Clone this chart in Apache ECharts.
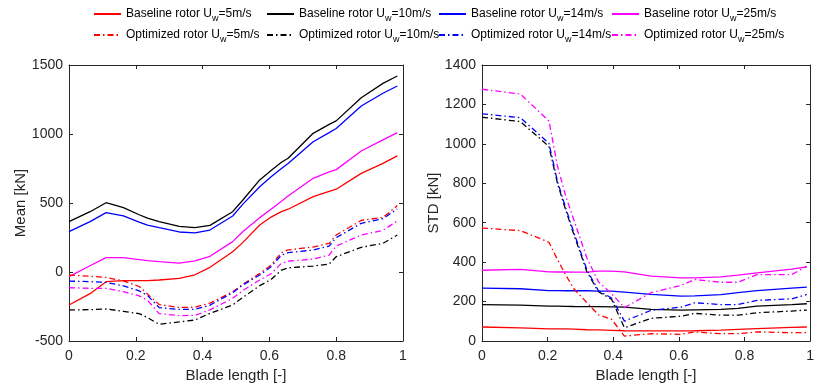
<!DOCTYPE html>
<html><head><meta charset="utf-8">
<script src="https://cdn.jsdelivr.net/npm/echarts@6/dist/echarts.min.js"></script>
<style>html,body{margin:0;padding:0;background:#fff}#c{width:817px;height:388px}</style>
</head><body><div id="c"></div>
<script>
// ---- Left plot (Mean) ----
var xMean = [0, 0.063, 0.111, 0.163, 0.21, 0.235, 0.27, 0.33, 0.377, 0.422, 0.49, 0.52, 0.571, 0.605, 0.636, 0.656, 0.731, 0.779, 0.8, 0.875, 0.94, 0.983];
var meanBase5  = [-239,-157,-70,-63,-63,-62,-58,-46,-20,34,147,213,341,398,438,455,546,585,600,715,787,841];
var meanBase10 = [365,437,502,466,415,390,365,330,321,338,437,520,667,735,795,824,1005,1070,1095,1263,1367,1420];
var meanBase14 = [292,365,430,406,362,340,321,290,283,304,406,490,618,690,750,787,944,1010,1040,1203,1295,1348];
var meanBase25 = [-34,45,104,104,90,82,75,65,80,114,220,292,394,455,512,551,679,725,742,877,957,1010];
var meanOpt5   = [-22,-31,-39,-65,-105,-160,-236,-257,-255,-225,-143,-90,-10,50,140,160,181,208,268,374,395,481];
var meanOpt10  = [-275,-273,-268,-285,-302,-330,-379,-362,-348,-300,-239,-185,-99,-55,14,30,43,58,111,179,208,268];
var meanOpt14  = [-66,-70,-75,-100,-137,-170,-258,-271,-271,-240,-150,-95,-22,38,123,140,159,188,249,353,386,457];
var meanOpt25  = [-114,-118,-118,-143,-173,-205,-302,-316,-314,-275,-191,-135,-58,-13,63,78,94,123,188,268,302,370];

// ---- Right plot (STD) ----
var xStd = [0, 0.117, 0.204, 0.23, 0.255, 0.28, 0.32, 0.355, 0.395, 0.434, 0.515, 0.607, 0.648, 0.728, 0.78, 0.838, 0.944, 0.99];
var stdBase5  = [71,67,62,62,61,60,57,56,54,52,51,51,52,55,59,63,69,71];
var stdBase10 = [185,182,177,177,176,175,174,174,173,172,160,157,158,160,165,177,185,189];
var stdBase14 = [268,265,256,256,255,255,255,253,253,248,236,228,229,235,245,256,268,273];
var stdBase25 = [359,363,351,350,350,349,349,354,354,351,329,320,320,325,334,346,365,376];
var stdOpt5   = [573,560,501,413,335,265,194,133,110,25,37,34,46,37,37,46,42,42];
var stdOpt10  = [1135,1113,987,800,665,540,350,250,212,67,115,126,140,131,131,143,152,157];
var stdOpt14  = [1152,1133,1003,810,675,550,360,255,218,101,155,172,194,185,185,206,214,236];
var stdOpt25  = [1277,1253,1116,888,736,614,420,300,240,169,245,282,312,298,298,337,337,379];

var xTicks = {min: 0, max: 1, interval: 0.2};
var meanTicks = {min: -500, max: 1500, interval: 500};
var stdTicks = {min: 0, max: 1400, interval: 200};

var speeds = [5, 10, 14, 25];
var baseNames = ['Baseline rotor Uw=5m/s', 'Baseline rotor Uw=10m/s', 'Baseline rotor Uw=14m/s', 'Baseline rotor Uw=25m/s'];
var optNames = ['Optimized rotor Uw=5m/s', 'Optimized rotor Uw=10m/s', 'Optimized rotor Uw=14m/s', 'Optimized rotor Uw=25m/s'];
var colors = ['#ff0000', '#000000', '#0000ff', '#ff00ff'];

var FONT = '"Liberation Sans", Arial, Helvetica, sans-serif';
var AX = '#262626';
var dashDot = [6, 3, 1.5, 3];

function pairs(xs, ys) { return ys.map(function (v, i) { return [xs[i], v]; }); }
function mk(name, color, dashed, xs, ys, idx) {
  return {
    name: name, type: 'line', xAxisIndex: idx, yAxisIndex: idx,
    data: pairs(xs, ys), symbol: 'none', showSymbol: false, smooth: false, animation: false,
    lineStyle: {color: color, width: 1.3, type: dashed ? dashDot : 'solid'},
    itemStyle: {color: color}
  };
}
function plain(v) { return String(v); }

function baseX(gi, show) {
  return {
    type: 'value', gridIndex: gi, min: xTicks.min, max: xTicks.max, interval: xTicks.interval,
    position: show ? 'bottom' : 'top',
    name: show ? 'Blade length [-]' : '', nameLocation: 'middle', nameGap: 25,
    nameTextStyle: {fontFamily: FONT, fontSize: 15, color: AX},
    axisLine: {show: true, onZero: false, lineStyle: {color: AX, width: 1}},
    axisTick: {show: true, inside: true, length: 4, lineStyle: {color: AX}},
    axisLabel: {show: show, fontFamily: FONT, fontSize: 14, color: AX, margin: 8, formatter: plain},
    splitLine: {show: false}
  };
}
function baseY(gi, show, t, nm, gap) {
  return {
    type: 'value', gridIndex: gi, min: t.min, max: t.max, interval: t.interval,
    position: show ? 'left' : 'right',
    name: show ? nm : '', nameLocation: 'middle', nameGap: gap, nameRotate: 90,
    nameTextStyle: {fontFamily: FONT, fontSize: 15, color: AX},
    axisLine: {show: true, onZero: false, lineStyle: {color: AX, width: 1}},
    axisTick: {show: true, inside: true, length: 4, lineStyle: {color: AX}},
    axisLabel: {show: show, fontFamily: FONT, fontSize: 14, color: AX, margin: 6, formatter: plain},
    splitLine: {show: false}
  };
}

var meanBase = [meanBase5, meanBase10, meanBase14, meanBase25];
var meanOpt = [meanOpt5, meanOpt10, meanOpt14, meanOpt25];
var stdBase = [stdBase5, stdBase10, stdBase14, stdBase25];
var stdOpt = [stdOpt5, stdOpt10, stdOpt14, stdOpt25];

var series = [];
speeds.forEach(function (s, i) { series.push(mk(baseNames[i], colors[i], false, xMean, meanBase[i], 0)); });
speeds.forEach(function (s, i) { series.push(mk(optNames[i], colors[i], true, xMean, meanOpt[i], 0)); });
speeds.forEach(function (s, i) { series.push(mk(baseNames[i], colors[i], false, xStd, stdBase[i], 1)); });
speeds.forEach(function (s, i) { series.push(mk(optNames[i], colors[i], true, xStd, stdOpt[i], 1)); });

var colLeft = [93, 266, 438, 611];
function mkLegend(left, top, name) {
  return {
    top: top, left: left, padding: 0, orient: 'horizontal',
    itemWidth: 27, itemHeight: 12, itemGap: 10,
    data: [name],
    itemStyle: {color: 'transparent', borderColor: 'transparent', borderWidth: 0, opacity: 0},
    formatter: function (n) { return n.replace('Uw', 'U{s|w}'); },
    textStyle: {
      fontFamily: FONT, fontSize: 12, color: '#000',
      rich: {s: {fontFamily: FONT, fontSize: 9, color: '#000', padding: [10, 0, 0, 0], verticalAlign: 'bottom'}}
    },
    selectedMode: false
  };
}
var legends = [];
speeds.forEach(function (s, i) { legends.push(mkLegend(colLeft[i], 8, baseNames[i])); });
speeds.forEach(function (s, i) { legends.push(mkLegend(colLeft[i], 29, optNames[i])); });

var chart = echarts.init(document.getElementById('c'), null, {renderer: 'canvas'});
chart.setOption({
  animation: false,
  backgroundColor: '#fff',
  legend: legends,
  grid: [
    {left: 69, right: 414, top: 65, bottom: 47, containLabel: false},
    {left: 482, right: 4, top: 65, bottom: 47, containLabel: false}
  ],
  xAxis: [baseX(0, true), baseX(1, true), baseX(0, false), baseX(1, false)],
  yAxis: [baseY(0, true, meanTicks, 'Mean [kN]', 37), baseY(1, true, stdTicks, 'STD [kN]', 28),
          baseY(0, false, meanTicks, '', 0), baseY(1, false, stdTicks, '', 0)],
  series: series
});
</script></body></html>
